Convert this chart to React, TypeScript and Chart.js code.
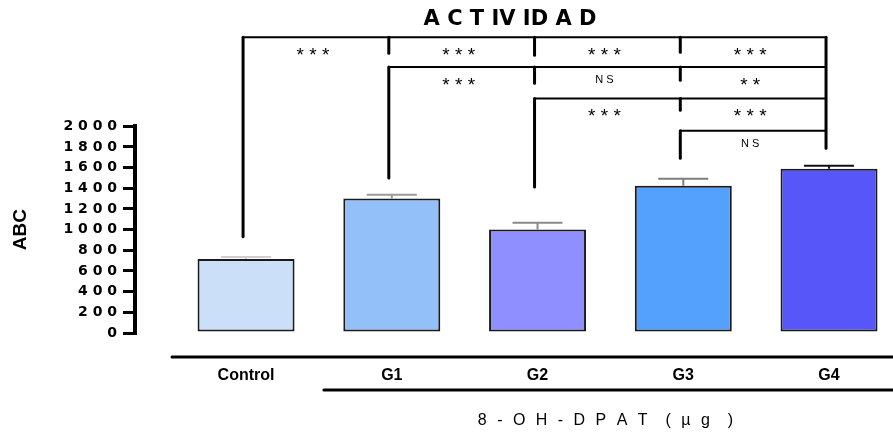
import React, { useEffect, useRef } from 'react';
import { Chart, registerables } from 'chart.js';

Chart.register(...registerables);

// ---------- data ----------
const categories = ['Control', 'G1', 'G2', 'G3', 'G4'];
const meanValues = [715, 1301, 1002, 1423, 1588];
const semValues = [20, 35, 64, 68, 29];
const yTickStep = 200;
const yMax = 2000;

// significance brackets (y values on the ABC scale)
const bracketStarts = [0, 1, 2, 3]; // group each bracket begins at (all end at G4)
const bracketLevels = [2860, 2573, 2268, 1955];
const bracketDropEnds = [930, 1498, 1413, 1691];
const bracketEndDrop = 1787;
const bracketTickEnds = [[2705, 2686, 2715], [2415, 2444], [2155], []];
const bracketLabels = [
  ['* * *', '* * *', '* * *', '* * *'],
  ['* * *', 'N S', '* *'],
  ['* * *', '* * *'],
  ['N S'],
];
const titleText = 'A C T IV ID A D';
const yTitleText = 'ABC';
const xTitleText = '8 - O H - D P A T  ( µ g  )';

// ---------- styles ----------
const SANS = '"Liberation Sans", Arial, sans-serif';
const WIDE = '"DejaVu Sans", sans-serif';
const barColors = ['#cbdff8', '#93c0f9', '#8f8fff', '#53a0fd', '#5656f9'];
const errColors = ['#cfcfcf', '#9a9a9a', '#8a8a8a', '#7f7f7f', '#111111'];

const overlay = {
  id: 'overlay',
  afterDatasetsDraw(chart: any) {
    const { ctx, scales } = chart;
    const xs = scales.x, ys = scales.y;
    ctx.save();
    ctx.lineWidth = 2;
    meanValues.forEach((m, i) => {
      const x = xs.getPixelForValue(i);
      const yTop = ys.getPixelForValue(m);
      const yErr = ys.getPixelForValue(m + semValues[i]);
      ctx.strokeStyle = errColors[i];
      ctx.beginPath();
      ctx.moveTo(x, yTop);
      ctx.lineTo(x, yErr);
      ctx.moveTo(x - 25, yErr);
      ctx.lineTo(x + 25, yErr);
      ctx.stroke();
    });
    ctx.restore();
  },
  afterDraw(chart: any) {
    const { ctx, scales, chartArea, width } = chart;
    const xs = scales.x, ys = scales.y;
    const gx = (i: number) => xs.getPixelForValue(i) - 3;
    const endG = categories.length - 1;
    ctx.save();
    ctx.strokeStyle = '#000';
    ctx.fillStyle = '#000';
    ctx.lineCap = 'round';
    bracketLevels.forEach((lv, k) => {
      const y = ys.getPixelForValue(lv);
      ctx.lineWidth = 2;
      ctx.beginPath();
      ctx.moveTo(gx(bracketStarts[k]), y);
      ctx.lineTo(gx(endG), y);
      ctx.stroke();
      ctx.lineWidth = 3;
      ctx.beginPath();
      ctx.moveTo(gx(bracketStarts[k]), y);
      ctx.lineTo(gx(bracketStarts[k]), ys.getPixelForValue(bracketDropEnds[k]));
      ctx.stroke();
      bracketTickEnds[k].forEach((te, j) => {
        const g = bracketStarts[k] + 1 + j;
        ctx.beginPath();
        ctx.moveTo(gx(g), y);
        ctx.lineTo(gx(g), ys.getPixelForValue(te));
        ctx.stroke();
      });
      bracketLabels[k].forEach((lab, j) => {
        const g = bracketStarts[k] + j;
        const cx = (gx(g) + gx(g + 1)) / 2 - 3;
        ctx.textAlign = 'center';
        ctx.textBaseline = 'alphabetic';
        if (lab.indexOf('*') >= 0) {
          ctx.font = `19px ${SANS}`;
          ctx.fillText(lab, cx, y + 24);
        } else {
          ctx.font = `11px ${SANS}`;
          ctx.fillText(lab, cx, y + 16);
        }
      });
    });
    ctx.lineWidth = 3;
    ctx.beginPath();
    ctx.moveTo(gx(endG), ys.getPixelForValue(bracketLevels[0]));
    ctx.lineTo(gx(endG), ys.getPixelForValue(bracketEndDrop));
    ctx.stroke();

    // lines under axis
    ctx.lineWidth = 3;
    ctx.beginPath();
    ctx.moveTo(xs.getPixelForValue(-0.508), chartArea.bottom + 24);
    ctx.lineTo(width, chartArea.bottom + 24);
    ctx.moveTo(xs.getPixelForValue(1 - 0.466), chartArea.bottom + 57);
    ctx.lineTo(width, chartArea.bottom + 57);
    ctx.stroke();

    // x title
    ctx.font = `16px ${SANS}`;
    try { (ctx as any).letterSpacing = '3px'; } catch (e) {}
    const w = ctx.measureText(xTitleText).width;
    const cx = xs.getPixelForValue(2.5) - 5;
    ctx.textAlign = 'left';
    ctx.textBaseline = 'alphabetic';
    ctx.fillText(xTitleText, cx - w / 2 + 1.5, chartArea.bottom + 92);
    try { (ctx as any).letterSpacing = '0px'; } catch (e) {}
    ctx.restore();
  },
};

export default function App() {
  const ref = useRef<HTMLCanvasElement | null>(null);
  useEffect(() => {
    if (!ref.current) return;
    const chart = new Chart(ref.current, {
      type: 'bar',
      data: {
        datasets: [
          {
            data: categories.map((_, i) => ({ x: i, y: meanValues[i] })) as any,
            backgroundColor: barColors,
            borderColor: '#1a1a1a',
            borderWidth: 2,
            borderSkipped: false,
            categoryPercentage: 1,
            barPercentage: 0.6655,
          },
        ],
      },
      options: {
        responsive: false,
        devicePixelRatio: 1,
        animation: false,
        layout: { padding: { left: 0, right: 8, top: 0, bottom: 0 } },
        plugins: {
          legend: { display: false },
          tooltip: { enabled: false },
          title: {
            display: true,
            text: titleText,
            fullSize: false,
            color: '#000',
            font: { family: WIDE, size: 21, weight: 'bold' },
            padding: { top: 7, bottom: 94 },
          },
        },
        scales: {
          x: {
            type: 'linear',
            offset: false,
            min: -0.762,
            max: 4.384,
            afterBuildTicks: (s: any) => {
              s.ticks = categories.map((_, i) => ({ value: i }));
            },
            afterFit: (s: any) => {
              s.height = 103;
            },
            grid: { display: false, drawTicks: false, offset: false },
            border: { display: false },
            ticks: {
              autoSkip: false,
              maxRotation: 0,
              padding: 33,
              color: '#000',
              font: { family: SANS, size: 16, weight: 'bold' },
              callback: (v: any) => categories[Math.round(Number(v))] ?? '',
            },
          },
          y: {
            min: 0,
            max: yMax,
            afterFit: (s: any) => {
              s.width = 135;
            },
            ticks: {
              stepSize: yTickStep,
              padding: 6,
              color: '#000',
              font: { family: WIDE, size: 14, weight: 'bold' },
              callback: (v: any) => String(v).split('').join(' '),
            },
            grid: {
              drawOnChartArea: false,
              drawTicks: true,
              tickLength: 12,
              tickWidth: 3,
              tickColor: '#000',
              color: '#000',
              lineWidth: 3,
            },
            border: { display: true, width: 4, color: '#000' },
            title: {
              display: true,
              text: yTitleText,
              color: '#000',
              font: { family: SANS, size: 19, weight: 'bold' },
              padding: { top: 9, bottom: 0 },
            },
          },
        },
      },
      plugins: [overlay],
    } as any);
    return () => chart.destroy();
  }, []);
  return (
    <div style={{ position: 'fixed', left: 0, top: 0, width: 893, height: 436, background: '#fff' }}>
      <canvas ref={ref} width={893} height={436} style={{ display: 'block', width: 893, height: 436 }} />
    </div>
  );
}
